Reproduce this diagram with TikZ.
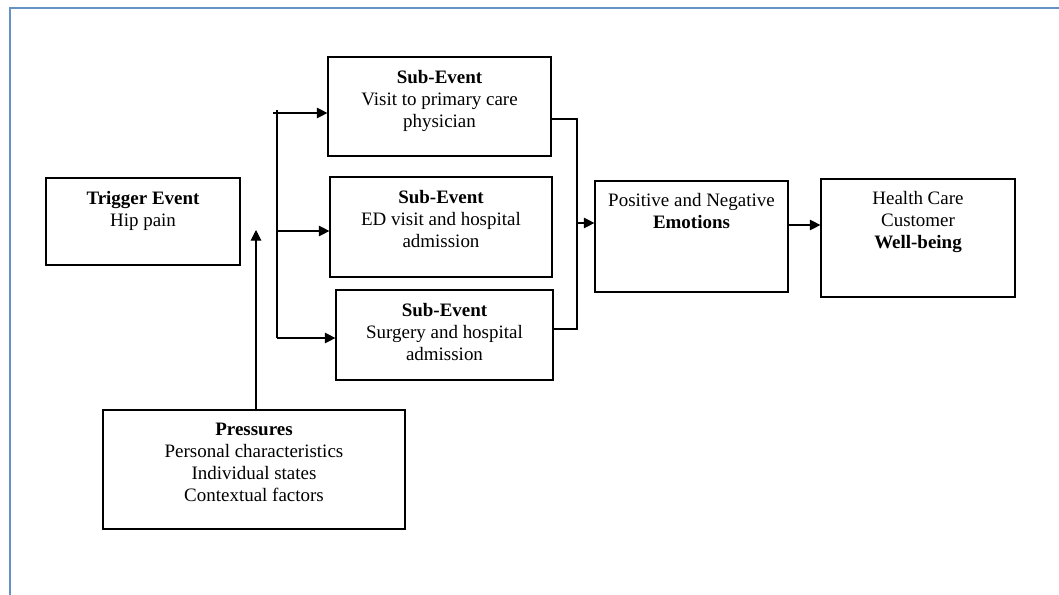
\documentclass[tikz,border=0pt]{standalone}
\usepackage{fontspec}
\setmainfont{Liberation Serif}
\usepackage{xcolor}
\usepackage{tikz}
\usetikzlibrary{arrows.meta, calc, positioning}
\definecolor{framebl}{RGB}{100,146,196}
\tikzset{
    box/.style={draw, line width=0.7pt, inner sep=0pt},
    arr/.style={-{Triangle[length=6pt, width=6pt]}, line width=0.6pt},
    wire/.style={line width=0.6pt}
}
\begin{document}
\begin{tikzpicture}[x=0.02cm, y=-0.02cm, font=\fontsize{10.8}{12.5}\selectfont]
             \useasboundingbox (0,0) rectangle (1059,595);
             \draw [framebl, line width=1.1pt](1059,8) -- (10,8) -- (10,595);
             \node[box] (trig) at (143,221.5) {\parbox[c][1.74cm][t]{3.88cm}{\centering\vspace*{7.5pt}\textbf{Trigger Event}\\Hip pain}};
             \node[box] (sub1) at (439.5,106.5) {\parbox[c][1.98cm][t]{4.46cm}{\centering\vspace*{7.5pt}\textbf{Sub-Event}\\Visit to primary care\\physician}};
             \node[box] (sub2) at (441,227) {\parbox[c][2.0cm][t]{4.44cm}{\centering\vspace*{7.5pt}\textbf{Sub-Event}\\ED visit and hospital\\admission}};
             \node[box] (sub3) at (444.5,335) {\parbox[c][1.8cm][t]{4.34cm}{\centering\vspace*{7.5pt}\textbf{Sub-Event}\\Surgery and hospital\\admission}};
             \node[box] (emo) at (691.5,236.5) {\parbox[c][2.22cm][t]{3.86cm}{\centering\vspace*{7pt}Positive and Negative\\\textbf{Emotions}}};
             \node[box] (well) at (918,238) {\parbox[c][2.36cm][t]{3.88cm}{\centering\vspace*{7pt}Health Care\\Customer\\\textbf{Well-being}}};
             \node[box, line width=0.9pt] (press) at (254,469.5) {\parbox[c][2.38cm][t]{6.04cm}{\centering\vspace*{7.5pt}\textbf{Pressures}\\Personal characteristics\\Individual states\\Contextual factors}};
             \coordinate (ptip) at (256,230);
             \coordinate (btop) at (277,110);
             \coordinate (b0) at (273,113);
             \coordinate (b1) at (277,113);
             \coordinate (b2) at (277,231);
             \coordinate (b3) at (277,338);
             \coordinate (r1) at (577,119);
             \coordinate (rm) at (577,223);
             \coordinate (r3) at (577,329);
             \coordinate (ew) at (800,225);
             \draw [arr](press.north -| ptip) -- (ptip);
             \draw [wire](btop) -- (b3);
             \draw [arr](b0) -- (b1 -| sub1.west);
             \draw [arr](b2) -- (b2 -| sub2.west);
             \draw [arr](b3) -- (b3 -| sub3.west);
             \draw [wire](sub1.east |- r1) -- (r1) -- (r3) -- (sub3.east |- r3);
             \draw [arr](rm) -- (rm -| emo.west);
             \draw [arr](ew -| emo.east) -- (ew -| well.west);
         \end{tikzpicture}
\end{document}
